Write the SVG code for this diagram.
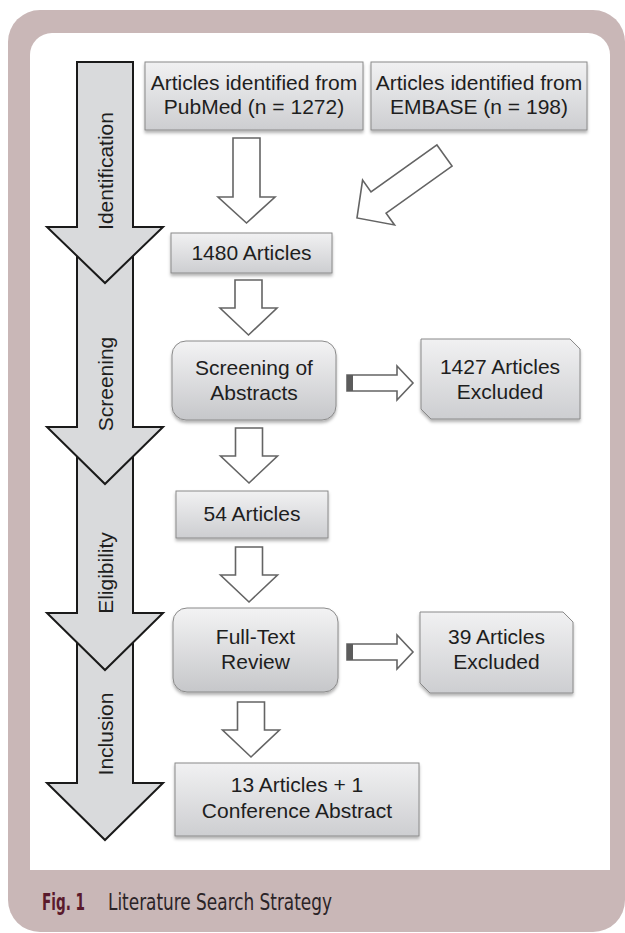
<svg xmlns="http://www.w3.org/2000/svg" width="625" height="933" viewBox="0 0 625 933">
<style>
.box{stroke:#8a8a8a;stroke-width:1;filter:url(#sh)}
.sq{fill:url(#gs)}
.rd{fill:url(#gr)}
.t{font-family:"Liberation Sans",Arial,Helvetica,sans-serif;font-size:21px;fill:#1e1e1e;text-anchor:middle}
.big{fill:#d9dadc;stroke:#1a1a1a;stroke-width:2;stroke-linejoin:miter}
.hol{fill:#ffffff;stroke:#646464;stroke-width:1.6;stroke-linejoin:miter}
.tail{fill:#5c5c5c}
.cap{font-family:"Liberation Sans Narrow","DejaVu Sans Condensed",sans-serif;font-size:23px}
</style>
<defs>
<linearGradient id="gs" x1="0" y1="0" x2="0" y2="1">
<stop offset="0" stop-color="#f1f1f2"/>
<stop offset="1" stop-color="#cdced1"/>
</linearGradient>
<linearGradient id="gr" x1="0" y1="0" x2="0" y2="1">
<stop offset="0" stop-color="#f3f3f4"/>
<stop offset="1" stop-color="#c6c7ca"/>
</linearGradient>
<filter id="sh" x="-10%" y="-10%" width="120%" height="130%">
<feDropShadow dx="0" dy="2.5" stdDeviation="1.5" flood-color="#000" flood-opacity="0.3"/>
</filter>
</defs>

<g id="frame">
<rect x="8" y="10" width="617" height="922" rx="32" ry="32" fill="#c9b7b7"/>
<path d="M30,870 L30,55 A22,22 0 0 1 52,33 L588,33 A22,22 0 0 1 610,55 L610,870 Z" fill="#ffffff"/>
</g>

<g id="caption">
<text class="cap" x="42" y="910" font-weight="bold" fill="#5a1a2c" textLength="43" lengthAdjust="spacingAndGlyphs">Fig. 1</text>
<text class="cap" x="108" y="910" fill="#2b2427" textLength="224" lengthAdjust="spacingAndGlyphs">Literature Search Strategy</text>
</g>

<g id="phases">
<g id="phase-inclusion">
<polygon class="big" points="77,613 133,613 133,783 163,783 105,840 47,783 77,783"/>
</g>
<g id="phase-eligibility">
<polygon class="big" points="77,427 133,427 133,613 163,613 105,670 47,613 77,613"/>
</g>
<g id="phase-screening">
<polygon class="big" points="77,227 133,227 133,427 163,427 105,484 47,427 77,427"/>
</g>
<g id="phase-identification">
<polygon class="big" points="77,62 133,62 133,227 163,227 105,283 47,227 77,227"/>
</g>
<text class="t" transform="translate(113,171) rotate(-90)">Identification</text>
<text class="t" transform="translate(113,384) rotate(-90)">Screening</text>
<text class="t" transform="translate(113,573) rotate(-90)">Eligibility</text>
<text class="t" transform="translate(113,734) rotate(-90)">Inclusion</text>
</g>

<g id="connectors">
<polygon class="hol" points="233,138 260,138 260,197 275,197 246.5,223 218,197 233,197"/>
<polygon class="hol" transform="translate(444.5,155.5) rotate(54.5)" points="-13,0 13,0 13,81 27.5,81 0,107.5 -27.5,81 -13,81"/>
<polygon class="hol" points="235,280 262,280 262,308 277,308 248.5,335 220,308 235,308"/>
<polygon class="hol" points="235.5,428 262.5,428 262.5,456 277.5,456 249,483 220.5,456 235.5,456"/>
<polygon class="hol" points="235.5,547 262.5,547 262.5,575 277.5,575 249,602 220.5,575 235.5,575"/>
<polygon class="hol" points="237.5,702 264.5,702 264.5,730 279.5,730 251,757 222.5,730 237.5,730"/>
<polygon class="hol" points="347,375 397,375 397,366 413,383 397,400 397,391 347,391"/>
<rect class="tail" x="347" y="375" width="6" height="16"/>
<polygon class="hol" points="347,644 397,644 397,635 413,652 397,669 397,660 347,660"/>
<rect class="tail" x="347" y="644" width="6" height="16"/>
</g>

<g id="n-pubmed">
<rect class="box sq" x="145" y="62" width="218" height="68"/>
<text class="t" x="254" y="90">Articles identified from</text>
<text class="t" x="254" y="114">PubMed (n = 1272)</text>
</g>
<g id="n-embase">
<rect class="box sq" x="371" y="62" width="216" height="68"/>
<text class="t" x="479" y="90">Articles identified from</text>
<text class="t" x="479" y="114">EMBASE (n = 198)</text>
</g>
<g id="n-1480">
<rect class="box sq" x="171" y="233" width="161" height="40"/>
<text class="t" x="251.5" y="260">1480 Articles</text>
</g>
<g id="n-screening">
<rect class="box rd" x="172" y="341" width="164" height="79" rx="14" ry="14"/>
<text class="t" x="254" y="375">Screening of</text>
<text class="t" x="254" y="400">Abstracts</text>
</g>
<g id="n-excluded-1427">
<path class="box sq" d="M421,339 L570,339 L580,349 L580,419 L431,419 L421,409 Z"/>
<text class="t" x="500" y="374">1427 Articles</text>
<text class="t" x="500" y="399">Excluded</text>
</g>
<g id="n-54">
<rect class="box sq" x="176" y="491" width="152" height="47"/>
<text class="t" x="252" y="521">54 Articles</text>
</g>
<g id="n-fulltext">
<rect class="box rd" x="173" y="608" width="165" height="84" rx="14" ry="14"/>
<text class="t" x="255.5" y="644">Full-Text</text>
<text class="t" x="255.5" y="669">Review</text>
</g>
<g id="n-excluded-39">
<path class="box sq" d="M420,612 L563,612 L573,622 L573,693 L430,693 L420,683 Z"/>
<text class="t" x="496.5" y="644">39 Articles</text>
<text class="t" x="496.5" y="669">Excluded</text>
</g>
<g id="n-included">
<rect class="box sq" x="175" y="763" width="244" height="73"/>
<text class="t" x="297" y="792">13 Articles + 1</text>
<text class="t" x="297" y="818">Conference Abstract</text>
</g>
</svg>
